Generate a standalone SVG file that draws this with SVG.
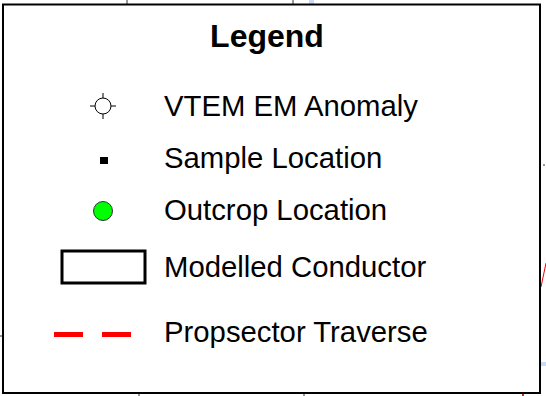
<svg xmlns="http://www.w3.org/2000/svg" width="546" height="396" viewBox="0 0 546 396">
  <style>
    .lbl { font-family: "Liberation Sans", Arial, sans-serif; font-size: 29.3px; fill: #000; }
    .title { font-family: "Liberation Sans", Arial, sans-serif; font-size: 32px; font-weight: bold; fill: #000; }
    .tick { stroke: #333; stroke-width: 1; }
  </style>
  <rect width="546" height="396" fill="#fff"/>
  <!-- map fragments showing past the legend frame -->
  <g id="map-edges">
    <line class="tick" x1="127" y1="0" x2="127" y2="4"/>
    <line class="tick" x1="293" y1="0" x2="293" y2="4"/>
    <rect x="309" y="0" width="5" height="4" fill="#c9dcf7"/>
    <line class="tick" x1="139" y1="393" x2="139" y2="396"/>
    <line class="tick" x1="304" y1="393" x2="304" y2="396"/>
    <line class="tick" x1="0" y1="336" x2="2" y2="336"/>
    <line class="tick" x1="543" y1="165" x2="545" y2="165"/>
    <line x1="541" y1="287" x2="546" y2="263" stroke="#e00" stroke-width="1"/>
    <rect x="541" y="362" width="5" height="4" fill="#c9dcf7"/>
    <rect x="522" y="394" width="2" height="2" fill="#a33"/>
  </g>
  <g id="frame">
    <rect x="3" y="4.5" width="537" height="388.5" fill="#fff" stroke="#000" stroke-width="2"/>
  </g>
  <g id="title"><text class="title" x="267" y="47" text-anchor="middle">Legend</text></g>
  <g id="vtem-anomaly">
    <circle cx="103" cy="106" r="8" fill="none" stroke="#000" stroke-width="1"/>
    <path d="M90 106H95M111 106H116M103 93V98M103 114V119" stroke="#000" stroke-width="1"/>
    <text class="lbl" x="164" y="116">VTEM EM Anomaly</text>
  </g>
  <g id="sample-location">
    <rect x="100" y="157" width="8" height="7" fill="#000"/>
    <text class="lbl" x="164" y="168">Sample Location</text>
  </g>
  <g id="outcrop-location">
    <circle cx="103" cy="211" r="9.5" fill="#00ff00" stroke="#333" stroke-width="1"/>
    <text class="lbl" x="164" y="220">Outcrop Location</text>
  </g>
  <g id="modelled-conductor">
    <rect x="62" y="251" width="83" height="32" fill="none" stroke="#000" stroke-width="3"/>
    <text class="lbl" x="164" y="277">Modelled Conductor</text>
  </g>
  <g id="prospector-traverse">
    <path d="M54 334.5H83M102 334.5H131" stroke="#f00" stroke-width="5"/>
    <text class="lbl" x="164" y="342">Propsector Traverse</text>
  </g>
</svg>
